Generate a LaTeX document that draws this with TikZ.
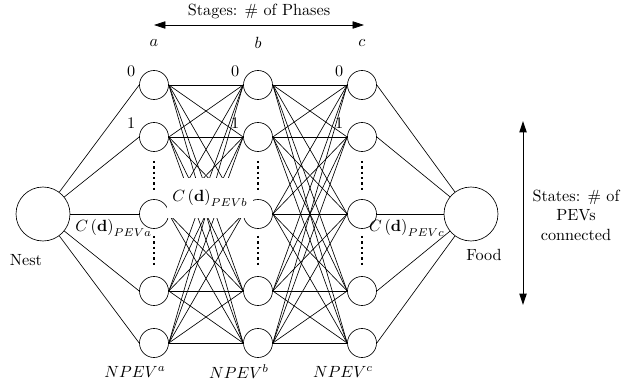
\documentclass[tikz,border=0pt]{standalone}
\usepackage{amsmath}
\usepackage{amssymb}
\usetikzlibrary{arrows.meta}

\begin{document}
\begin{tikzpicture}[x=0.617pt, y=-0.617pt,
    state/.style={draw, circle, minimum size=17.9pt, inner sep=0pt},
    endpoint/.style={draw, circle, minimum size=33.3pt, inner sep=0pt},
    dotcol/.style={line width=1.3pt, dash pattern=on 1.4pt off 1.9pt},
    bigarrow/.style={{Triangle[length=7pt,width=4.5pt]}-{Triangle[length=7pt,width=4.5pt]}}]

    \useasboundingbox (0,0) rectangle (636,388);

    % Nest and Food
    \node[endpoint] (nest) at (43,214) {};
    \node[endpoint] (food) at (471,214) {};
    \node (nestlbl) at (26,260) {Nest};
    \node (foodlbl) at (484,255) {Food};

    % Stage columns
    \foreach \s/\x in {a/154, b/258, c/362} {
        \node[state, label={[label distance=-1pt]170:0}] (\s0) at (\x,85) {};
        \node[state, label={[label distance=-1pt]170:1}] (\s1) at (\x,137) {};
        \node[state] (\s2) at (\x,214) {};
        \node[state] (\s3) at (\x,291) {};
        \node[state] (\s4) at (\x,343) {};
        \draw[dotcol] (\x,161) -- (\x,192);
        \draw[dotcol] (\x,236) -- (\x,267);
        \node (stage\s) at (\x,43) {$\s$};
        \node (npev\s) at ({\x-19},372) {$NPEV^{\s}$};
    }

    % Connections
    \foreach \i in {0,...,4} {
        \draw (nest) -- (a\i.west);
        \draw (c\i.east) -- (food);
        \foreach \j in {0,...,4} {
            \draw (a\i.east) -- (b\j.west);
            \draw (b\i.east) -- (c\j.west);
        }
    }

    % Costs
    \path (nest) -- (a2.west) node[pos=0.63, below] (costa) {$C\left(\mathbf{d}\right)_{PEVa}$};
    \node[fill=white, minimum width=44pt, minimum height=25pt] (costb) at (210,198) {$C\left(\mathbf{d}\right)_{PEVb}$};
    \path (c2.east) -- (food) node[pos=0.45, below] (costc) {$C\left(\mathbf{d}\right)_{PEVc}$};

    % Stages arrow
    \coordinate (stagesL) at (154,25);
    \coordinate (stagesR) at (364,25);
    \draw[bigarrow] (stagesL) -- (stagesR) node[midway, above] (stagestxt) {Stages: \# of Phases};

    % States arrow
    \coordinate (statesT) at (523,121);
    \coordinate (statesB) at (523,305);
    \draw[bigarrow, semithick] (statesT) -- (statesB);
    \node[align=center] (statestxt) at (576,215) {States: \# of\\PEVs\\connected};

\end{tikzpicture}
\end{document}
